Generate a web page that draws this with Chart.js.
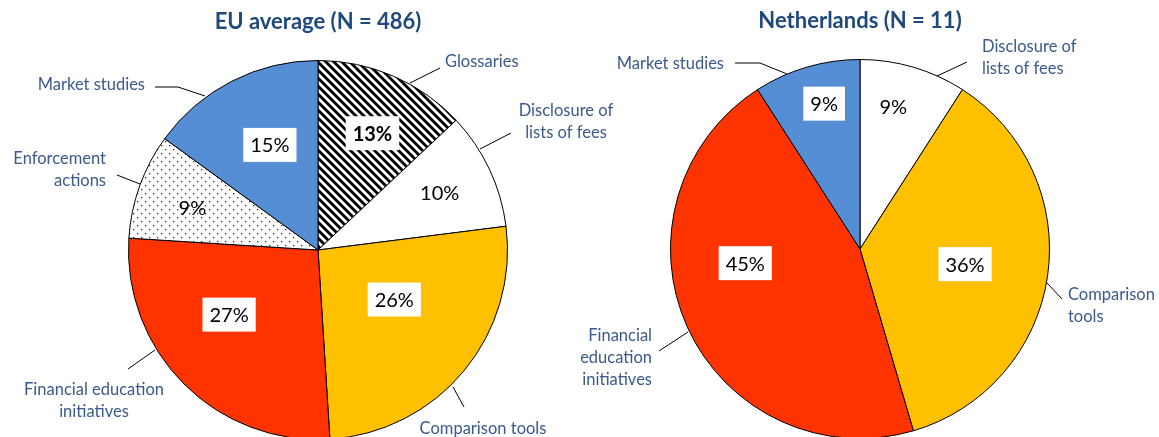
<!DOCTYPE html>
<html>
<head>
<meta charset="utf-8">
<script src="https://cdn.jsdelivr.net/npm/chart.js@4.4.0/dist/chart.umd.min.js"></script>
<style>
  body { margin: 0; background: #fff; overflow: hidden; width: 1159px; height: 437px; position: relative; }
  canvas { position: absolute; top: 0; }
  #euChart { left: 0; }
  #nlChart { left: 540px; }
</style>
</head>
<body>
<canvas id="euChart" width="640" height="470"></canvas>
<canvas id="nlChart" width="619" height="470"></canvas>
<script>
// data
const euTitle = 'EU average (N = 486)';
const euLabels = ['Glossaries', 'Disclosure of lists of fees', 'Comparison tools', 'Financial education initiatives', 'Enforcement actions', 'Market studies'];
const euValues = [13, 10, 26, 27, 9, 15];

const nlTitle = 'Netherlands (N = 11)';
const nlLabels = ['Disclosure of lists of fees', 'Comparison tools', 'Financial education initiatives', 'Market studies'];
const nlValues = [9, 36, 45, 9];

const BLUE = '#558ED5', YELLOW = '#FFC000', RED = '#FF3300';
const TITLE_COLOR = '#1F497D', LABEL_COLOR = '#3A5A8C';

function hatchPattern() {
  const c = document.createElement('canvas');
  c.width = 8; c.height = 8;
  const g = c.getContext('2d');
  g.fillStyle = '#fff';
  g.fillRect(0, 0, 8, 8);
  g.strokeStyle = '#000';
  g.lineWidth = 2.8;
  [-8, 0, 8].forEach(o => {
    g.beginPath();
    g.moveTo(o - 1, -1);
    g.lineTo(o + 9, 9);
    g.stroke();
  });
  return g.createPattern(c, 'repeat');
}

function dotPattern() {
  const c = document.createElement('canvas');
  c.width = 8; c.height = 8;
  const g = c.getContext('2d');
  g.fillStyle = '#fff';
  g.fillRect(0, 0, 8, 8);
  g.fillStyle = '#333';
  g.fillRect(1, 1, 1.3, 1.3);
  g.fillRect(5, 5, 1.3, 1.3);
  return g.createPattern(c, 'repeat');
}

// draws title, percentage boxes and callouts with leader lines
const pieDecor = {
  id: 'pieDecor',
  afterDraw(chart) {
    const cfg = chart.options.plugins.pieDecor;
    const arcs = chart.getDatasetMeta(0).data;
    const values = chart.data.datasets[0].data;
    const ctx = chart.ctx;
    const cx = arcs[0].x, cy = arcs[0].y, R = arcs[0].outerRadius;
    ctx.save();

    ctx.fillStyle = TITLE_COLOR;
    ctx.font = 'bold 22px Lato';
    ctx.textAlign = 'center';
    ctx.textBaseline = 'middle';
    ctx.fillText(cfg.title, cx, cy - R - 39);

    arcs.forEach((arc, i) => {
      const [f, shift] = cfg.labelPos[i];
      const a = (arc.startAngle + arc.endAngle) / 2 + shift * Math.PI / 180;
      const x = cx + Math.cos(a) * f * R;
      const y = cy + Math.sin(a) * f * R;
      const txt = Math.round(values[i]) + '%';
      ctx.font = (cfg.bold[i] ? 'bold ' : '') + '20px Lato';
      if (cfg.boxed[i]) {
        const w = ctx.measureText(txt).width + 14;
        ctx.fillStyle = '#fff';
        ctx.fillRect(x - w / 2, y - 17, w, 34);
      }
      ctx.fillStyle = '#000';
      ctx.textAlign = 'center';
      ctx.fillText(txt, x, y + 1);
    });

    ctx.font = '16.5px Lato';
    cfg.callouts.forEach(co => {
      ctx.strokeStyle = '#000';
      ctx.lineWidth = 1;
      ctx.beginPath();
      co.line.forEach((p, k) => k ? ctx.lineTo(cx + p[0], cy + p[1]) : ctx.moveTo(cx + p[0], cy + p[1]));
      ctx.stroke();
      ctx.fillStyle = LABEL_COLOR;
      ctx.textAlign = co.align;
      co.lines.forEach((t, k) => ctx.fillText(t, cx + co.x, cy + co.y + k * 22));
    });
    ctx.restore();
  }
};

function makePie(id, labels, values, colors, padding, deco) {
  return new Chart(document.getElementById(id), {
    type: 'pie',
    data: {
      labels: labels,
      datasets: [{
        data: values,
        backgroundColor: colors,
        borderColor: '#000',
        borderWidth: 1,
        hoverOffset: 0
      }]
    },
    options: {
      responsive: false,
      animation: false,
      events: [],
      layout: { padding: padding },
      plugins: {
        legend: { display: false },
        tooltip: { enabled: false },
        pieDecor: deco
      }
    },
    plugins: [pieDecor]
  });
}

makePie('euChart', euLabels, euValues,
  [hatchPattern(), '#FFFFFF', YELLOW, RED, dotPattern(), BLUE],
  { left: 128, right: 132, top: 60, bottom: 30 },
  {
    title: euTitle,
    labelPos: [[0.68, 1.6], [0.71, 0], [0.48, -6.6], [0.58, 9], [0.70, -1], [0.61, 2.4]],
    boxed: [true, false, true, true, false, true],
    bold: [true, false, false, false, false, false],
    callouts: [
      { lines: ['Glossaries'], x: 127, y: -188, align: 'left', line: [[92, -167], [122, -182]] },
      { lines: ['Disclosure of', 'lists of fees'], x: 248, y: -139, align: 'center', line: [[162, -101], [193, -117]] },
      { lines: ['Comparison tools'], x: 165, y: 179, align: 'center', line: [[135, 137], [146, 157]] },
      { lines: ['Financial education', 'initiatives'], x: -224, y: 140, align: 'center', line: [[-163, 100], [-190, 119]] },
      { lines: ['Enforcement', 'actions'], x: -212, y: -91, align: 'right', line: [[-178, -66], [-201, -75]] },
      { lines: ['Market studies'], x: -173, y: -165, align: 'right', line: [[-113, -154], [-140, -163], [-163, -163]] }
    ]
  });

makePie('nlChart', nlLabels, nlValues,
  ['#FFFFFF', YELLOW, RED, BLUE],
  { left: 130, right: 109, top: 59, bottom: 31 },
  {
    title: nlTitle,
    labelPos: [[0.77, -3.2], [0.56, 0], [0.61, 17.5], [0.79, 2.5]],
    boxed: [false, true, true, true],
    bold: [false, false, false, false],
    callouts: [
      { lines: ['Disclosure of', 'lists of fees'], x: 122, y: -202, align: 'left', line: [[77, -173], [107, -187]] },
      { lines: ['Comparison', 'tools'], x: 208, y: 46, align: 'left', line: [[187, 34], [202, 50]] },
      { lines: ['Financial', 'education', 'initiatives'], x: -208, y: 87, align: 'right', line: [[-172, 83], [-201, 102]] },
      { lines: ['Market studies'], x: -136, y: -185, align: 'right', line: [[-73, -175], [-100, -186], [-125, -186]] }
    ]
  });
</script>
</body>
</html>
